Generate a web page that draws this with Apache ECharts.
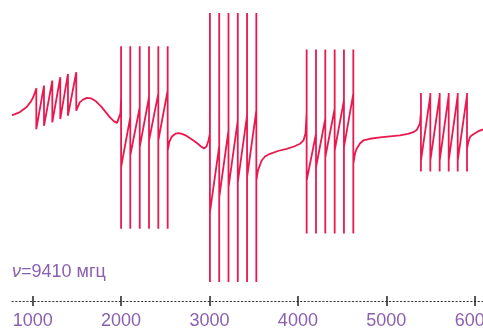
<!DOCTYPE html>
<html>
<head>
<meta charset="utf-8">
<script src="https://cdn.jsdelivr.net/npm/echarts@6/dist/echarts.min.js"></script>
<style>
  html, body { margin: 0; padding: 0; background: #ffffff; }
  #chart { width: 483px; height: 332px; }
</style>
</head>
<body>
<div id="chart"></div>
<script>
// ---- Data (frequency on x, signal in arbitrary units on y) ----
const xTicks = [1000, 2000, 3000, 4000, 5000, 6000];
const noteLabel = '{nu|ν}=9410 мгц';

// smooth parts of the curve
const leadIn = [[766, 35], [856, 38.3], [932, 43.3], [981, 49], [1007, 53.3], [1026, 58]];
const gap12 = [[1532, 48], [1569, 50.7], [1614, 52.5], [1659, 52], [1716, 49], [1773, 44], [1829, 38], [1874, 33], [1920, 29], [1954, 27.5], [1976, 29], [1993, 37]];
const gap23 = [[2547, 9], [2576, 14], [2610, 16.5], [2647, 17.3], [2689, 16.5], [2742, 14.5], [2802, 11], [2858, 7.5], [2904, 4], [2938, 2], [2966, 4], [2989, 10]];
const gap34 = [[3548, -20], [3590, -10], [3628, -6], [3684, -3.3], [3775, -0.5], [3873, 1.7], [3956, 4], [4024, 6.7], [4063, 10], [4086, 17]];
const gap45 = [[4646, -3], [4665, 1.7], [4702, 7], [4740, 10], [4815, 11.7], [4929, 13], [5042, 14], [5155, 15], [5245, 16.5], [5305, 18.3], [5347, 20.7], [5381, 27]];
const tail = [[5930, 9], [5950, 14], [5989, 16.5], [6037, 19], [6094, 21]];

// resonance bursts: pole positions, value on arrival, value on departure, rail limits
const poles1 = [1041, 1128, 1222, 1312, 1399, 1493];
const arrive1 = [62, 64.7, 69.7, 73, 76.3, 78];
const depart1 = [21.3, 24.7, 28, 31.3, 34.7, 39.7];
const rails1 = null;

const poles2 = [2000, 2104, 2211, 2316, 2421, 2527];
const arrive2 = [53, 33.3, 43.3, 53.3, 56.7, 60];
const depart2 = [-16.7, -5, 3.3, 10, 10, 0];
const rails2 = [104, -78];

const poles3 = [3005, 3110, 3215, 3320, 3425, 3530];
const arrive3 = [17, 4.3, 20, 30, 35, 40];
const depart3 = [-61.7, -46.7, -36.7, -31.7, -26.7, -30];
const rails3 = [137, -131];

const poles4 = [4099, 4205, 4310, 4416, 4521, 4627];
const arrive4 = [38, 16.7, 31.7, 41.7, 50, 56.7];
const depart4 = [-30, -16.7, -6.7, 0, 3.3, -13.3];
const rails4 = [100.7, -82.7];

const poles5 = [5392, 5498, 5604, 5706, 5808, 5913];
const arrive5 = [38, 55, 55, 55, 55, 55];
const depart5 = [-10, -10, -10, -10, -10, 2];
const rails5 = [57.3, -21];

// ---- Build the polyline ----
function burst(poles, arrive, depart, rails) {
  const pts = [];
  for (let i = 0; i < poles.length; i++) {
    pts.push([poles[i], arrive[i]]);
    if (rails) {
      pts.push([poles[i], rails[0]]);
      pts.push([poles[i], rails[1]]);
    }
    pts.push([poles[i], depart[i]]);
  }
  return pts;
}

const lineData = [].concat(
  leadIn,
  burst(poles1, arrive1, depart1, rails1),
  gap12,
  burst(poles2, arrive2, depart2, rails2),
  gap23,
  burst(poles3, arrive3, depart3, rails3),
  gap34,
  burst(poles4, arrive4, depart4, rails4),
  gap45,
  burst(poles5, arrive5, depart5, rails5),
  tail
);

const purple = '#8b60b0';
const red = '#e9194f';
const font = '"Liberation Sans", Arial, sans-serif';

const chart = echarts.init(document.getElementById('chart'), null, { renderer: 'canvas' });
chart.setOption({
  animation: false,
  backgroundColor: '#ffffff',
  grid: { left: 12, right: 0, top: 0, bottom: 31, containLabel: false, outerBoundsMode: 'none' },
  title: {
    text: noteLabel,
    left: 12,
    top: 263,
    padding: 0,
    textStyle: {
      color: purple,
      fontSize: 18,
      fontWeight: 'normal',
      fontFamily: font,
      rich: {
        nu: { color: purple, fontSize: 18, fontStyle: 'italic', fontFamily: font }
      }
    }
  },
  xAxis: [
    {
      type: 'value',
      min: 766,
      max: 6094,
      position: 'bottom',
      splitLine: { show: false },
      axisLine: { show: true, onZero: false, lineStyle: { color: '#333', width: 1.2, type: [1.2, 2.5] } },
      axisTick: { show: true, inside: false, length: 5, customValues: xTicks, lineStyle: { color: '#222', width: 1.5 } },
      axisLabel: { show: true, customValues: xTicks, margin: 11, color: purple, fontSize: 18, fontFamily: font, formatter: v => String(v) }
    },
    {
      type: 'value',
      min: 766,
      max: 6094,
      position: 'bottom',
      splitLine: { show: false },
      axisLine: { show: false, onZero: false },
      axisTick: { show: true, inside: true, length: 5, customValues: xTicks, lineStyle: { color: '#222', width: 1.5 } },
      axisLabel: { show: false }
    }
  ],
  yAxis: {
    type: 'value',
    min: -150,
    max: 150,
    show: false,
    splitLine: { show: false }
  },
  series: [{
    type: 'line',
    xAxisIndex: 0,
    data: lineData,
    showSymbol: false,
    symbol: 'none',
    smooth: false,
    sampling: null,
    lineStyle: { color: red, width: 1.8 }
  }]
});
</script>
</body>
</html>
